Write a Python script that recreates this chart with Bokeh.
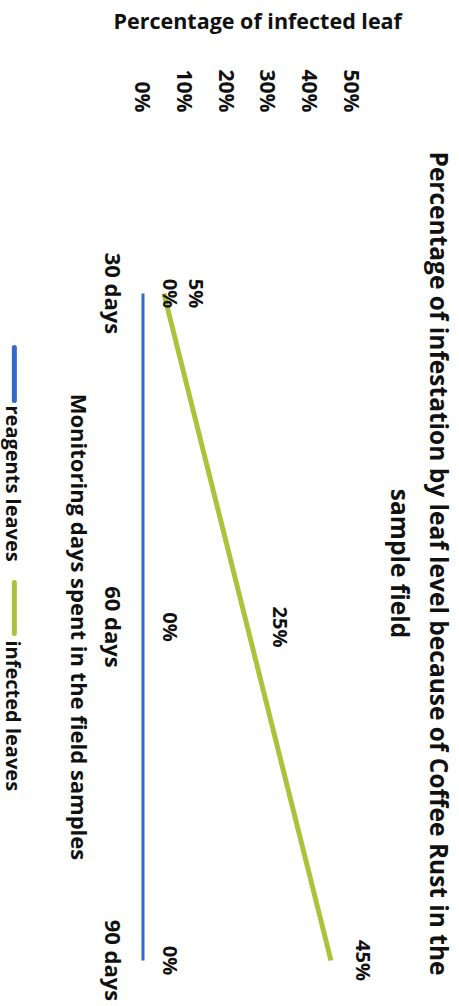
import math
from bokeh.plotting import figure
from bokeh.models import (Range1d, FixedTicker, Title, Label, PrintfTickFormatter)
from bokeh.core.properties import value
from bokeh.embed import file_html
from bokeh.resources import INLINE

# ---------------- data ----------------
days = [30, 60, 90]
day_labels = ["30 days", "60 days", "90 days"]
reagents = [0, 0, 0]
infected = [5, 25, 45]
pct_ticks = [0, 10, 20, 30, 40, 50]
series_names = ["reagents leaves", "infected leaves"]
title_lines = ["Percentage of infestation by leaf level because of Coffee Rust in the",
               "sample field"]
x_title = "Percentage of infected leaf"
y_title = "Monitoring days spent in the field samples"

# ---------------- style ----------------
BLUE = "#2f6cc4"
GREEN = "#a9c43b"
INK = "#111111"
FONT = "Open Sans"
ROT = -math.pi / 2

W, H = 459, 1006
FR, FT, FB = 385, 126, 1000            # frame right / top / bottom (page px); frame left = 0
PX0, PXU = 144, 4.22                   # page x of 0 %, pixels per 1 %
PY30, PYU = 293, (960 - 293) / 60.0    # page y of 30 days, pixels per day


def dx(px):
    return (px - PX0) / PXU


def dy(py):
    return days[0] + (py - PY30) / PYU


p = figure(width=W, height=H,
           x_range=Range1d(dx(0), dx(FR)), y_range=Range1d(dy(FB), dy(FT)),
           x_axis_location="above", y_axis_location=None,
           output_backend="svg", toolbar_location=None,
           min_border_left=0, min_border_right=W - FR,
           min_border_top=FT, min_border_bottom=H - FB)
p.outline_line_color = None
p.xgrid.visible = False
p.ygrid.visible = False

# percentage axis (top)
xa = p.xaxis[0]
xa.ticker = FixedTicker(ticks=pct_ticks)
xa.formatter = PrintfTickFormatter(format="%d%%")
xa.major_label_orientation = ROT
xa.axis_line_color = None
xa.major_tick_line_color = None
xa.minor_tick_line_color = None
xa.major_tick_out = 0
xa.major_tick_in = 0
xa.minor_tick_out = 0
xa.minor_tick_in = 0
xa.major_label_text_font = FONT
xa.major_label_text_font_style = "bold"
xa.major_label_text_font_size = "21px"
xa.major_label_text_color = INK
xa.major_label_standoff = 14

# blank spacer between the tick labels and the axis title
p.add_layout(Title(text=" ", text_font_size="1px", standoff=28), "above")

# axis title of the percentage axis (horizontal, at the very top)
p.title.text = x_title
p.title.align = "left"
p.title.offset = 113
p.title.text_font = FONT
p.title.text_font_style = "bold"
p.title.text_font_size = "21.5px"
p.title.text_color = INK
p.title.standoff = 2

# series
p.line(x=reagents, y=days, line_color=BLUE, line_width=3)
p.line(x=infected, y=days, line_color=GREEN, line_width=5)

common = dict(angle=ROT, text_align="center", text_baseline="middle",
              text_font=value(FONT), text_font_style="bold", text_color=INK)
p.text(x=reagents, y=days, text=[f"{v}%" for v in reagents], x_offset=27,
       text_font_size="20px", **common)
p.text(x=infected, y=days, text=[f"{v}%" for v in infected], x_offset=33,
       text_font_size="20px", **common)

# day labels (category axis, rotated)
p.text(x=[dx(115)] * len(days), y=days, text=day_labels,
       text_font_size="22px", **common)

# days axis title
p.add_layout(Label(x=dx(80), y=(days[0] + days[-1]) / 2, text=y_title, angle=ROT,
                   text_align="center", text_baseline="middle",
                   text_font=FONT, text_font_style="bold", text_font_size="22px",
                   text_color=INK))

# chart title (two lines, on the right, reading downward)
for line in reversed(title_lines):
    p.add_layout(Title(text=line, align="center", text_font=FONT,
                       text_font_style="bold", text_font_size="24.5px",
                       text_color=INK, standoff=4), "right")

# legend (rotated)
for name, col, sw_top, sw_bot, txt_top in [(series_names[0], BLUE, 347, 400, 405),
                                           (series_names[1], GREEN, 582, 633, 640)]:
    p.segment(x0=[dx(14)], y0=[dy(sw_top)], x1=[dx(14)], y1=[dy(sw_bot)],
              line_color=col, line_width=5, line_cap="round")
    p.add_layout(Label(x=dx(13), y=dy(txt_top), text=name, angle=ROT,
                       text_align="left", text_baseline="middle",
                       text_font=FONT, text_font_style="bold", text_font_size="20px",
                       text_color=INK))

open("out.html", "w").write(file_html(p, INLINE))
